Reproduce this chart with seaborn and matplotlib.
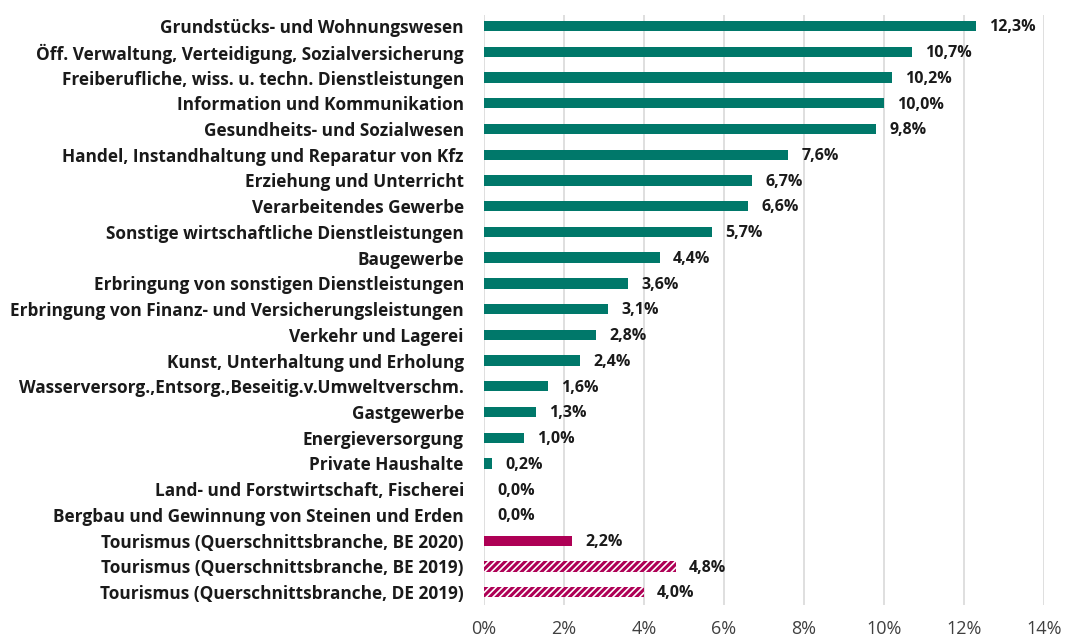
import matplotlib
matplotlib.use("Agg")
import matplotlib.pyplot as plt
import seaborn as sns
import pandas as pd

categories = [
    "Grundstücks- und Wohnungswesen",
    "Öff. Verwaltung, Verteidigung, Sozialversicherung",
    "Freiberufliche, wiss. u. techn. Dienstleistungen",
    "Information und Kommunikation",
    "Gesundheits- und Sozialwesen",
    "Handel, Instandhaltung und Reparatur von Kfz",
    "Erziehung und Unterricht",
    "Verarbeitendes Gewerbe",
    "Sonstige wirtschaftliche Dienstleistungen",
    "Baugewerbe",
    "Erbringung von sonstigen Dienstleistungen",
    "Erbringung von Finanz- und Versicherungsleistungen",
    "Verkehr und Lagerei",
    "Kunst, Unterhaltung und Erholung",
    "Wasserversorg.,Entsorg.,Beseitig.v.Umweltverschm.",
    "Gastgewerbe",
    "Energieversorgung",
    "Private Haushalte",
    "Land- und Forstwirtschaft, Fischerei",
    "Bergbau und Gewinnung von Steinen und Erden",
    "Tourismus (Querschnittsbranche, BE 2020)",
    "Tourismus (Querschnittsbranche, BE 2019)",
    "Tourismus (Querschnittsbranche, DE 2019)",
]
values = [12.3, 10.7, 10.2, 10.0, 9.8, 7.6, 6.7, 6.6, 5.7, 4.4, 3.6, 3.1, 2.8,
          2.4, 1.6, 1.3, 1.0, 0.2, 0.0, 0.0, 2.2, 4.8, 4.0]
groups = ["Branche"] * 20 + ["Tourismus 2020", "Tourismus 2019", "Tourismus 2019"]
x_ticks = [0, 2, 4, 6, 8, 10, 12, 14]
x_tick_labels = ["0%", "2%", "4%", "6%", "8%", "10%", "12%", "14%"]

TEAL = "#00786A"
MAGENTA = "#AE0055"

df = pd.DataFrame({"cat": categories, "val": values, "grp": groups})

sns.set_theme(style="white")
plt.rcParams["font.family"] = ["Open Sans", "DejaVu Sans"]
plt.rcParams["hatch.linewidth"] = 2.2
plt.rcParams["hatch.color"] = MAGENTA

fig = plt.figure(figsize=(10.67, 6.38), dpi=100)
ax = fig.add_axes([0.4536, 0.0517, 0.5249, 0.9248])

sns.barplot(data=df, y="cat", x="val", hue="grp", dodge=False, orient="h",
            palette={"Branche": TEAL, "Tourismus 2020": MAGENTA, "Tourismus 2019": MAGENTA},
            width=0.4, legend=False, ax=ax, zorder=3, linewidth=0, saturation=1)

for p in ax.patches:
    if p.get_height() == 0:
        continue
    yc = p.get_y() + p.get_height() / 2
    if yc > 20.5:
        p.set_facecolor("white")
        p.set_edgecolor(MAGENTA)
        p.set_hatch("/////")
        p.set_linewidth(0)

for i, v in enumerate(values):
    ax.text(v + 0.33, i + 0.05, f"{v:.1f}%".replace(".", ","), va="center", ha="left",
            fontsize=11.5, fontweight="bold", color="#1a1a1a")

ax.set_xlim(0, 14)
ax.set_ylim(22.5, -0.43)
ax.set_xticks(x_ticks)
ax.set_xticklabels(x_tick_labels, fontsize=13, color="#404040")
ax.tick_params(axis="x", length=0, pad=11)
ax.tick_params(axis="y", length=0, pad=14.5)
for lbl in ax.get_yticklabels():
    lbl.set_fontweight("bold")
    lbl.set_fontsize(12.4)
    lbl.set_color("#1a1a1a")
ax.set_xlabel("")
ax.set_ylabel("")
ax.grid(axis="x", color="#D9D9D9", linewidth=1.2, zorder=0)
ax.grid(axis="y", visible=False)
for s in ax.spines.values():
    s.set_visible(False)

fig.savefig("out.png", dpi=100)
